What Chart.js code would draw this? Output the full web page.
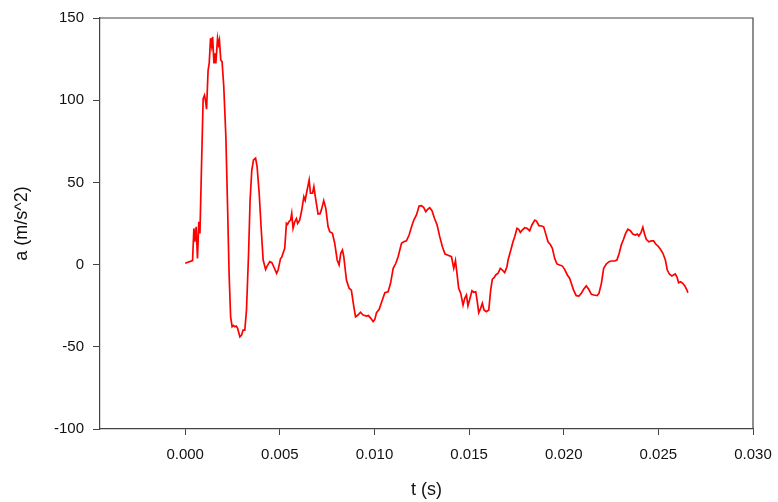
<!DOCTYPE html>
<html>
<head>
<meta charset="utf-8">
<title>a vs t</title>
<script src="https://cdn.jsdelivr.net/npm/chart.js@4.4.1/dist/chart.umd.min.js"></script>
<style>
  html, body { margin: 0; padding: 0; background: #fff; }
  #wrap { width: 778px; height: 502px; position: relative; }
</style>
</head>
<body>
<div id="wrap"><canvas id="chart"></canvas></div>
<script>
// time (s) and acceleration (m/s^2)
const tValues = [
  0.00000, 0.00039, 0.00046, 0.00051, 0.00058, 0.00065, 0.00072, 0.00078, 0.00085, 0.00095,
  0.00102, 0.00107, 0.00113, 0.00121, 0.00127, 0.00134, 0.00140, 0.00145, 0.00152, 0.00157,
  0.00162, 0.00171, 0.00176, 0.00181, 0.00188, 0.00195, 0.00204, 0.00215, 0.00224, 0.00232,
  0.00240, 0.00248, 0.00255, 0.00262, 0.00270, 0.00277, 0.00289, 0.00298, 0.00306, 0.00315,
  0.00324, 0.00335, 0.00343, 0.00352, 0.00361, 0.00372, 0.00380, 0.00391, 0.00401, 0.00412,
  0.00425, 0.00433, 0.00447, 0.00458, 0.00468, 0.00483, 0.00491, 0.00504, 0.00510, 0.00517,
  0.00526, 0.00535, 0.00541, 0.00548, 0.00557, 0.00563, 0.00570, 0.00579, 0.00588, 0.00594,
  0.00605, 0.00616, 0.00627, 0.00634, 0.00641, 0.00655, 0.00662, 0.00673, 0.00680, 0.00689,
  0.00702, 0.00713, 0.00722, 0.00732, 0.00743, 0.00755, 0.00764, 0.00778, 0.00790, 0.00803,
  0.00813, 0.00822, 0.00831, 0.00838, 0.00852, 0.00866, 0.00878, 0.00891, 0.00900, 0.00913,
  0.00926, 0.00940, 0.00958, 0.00968, 0.00981, 0.00993, 0.01002, 0.01011, 0.01025, 0.01039,
  0.01055, 0.01072, 0.01085, 0.01099, 0.01113, 0.01125, 0.01134, 0.01143, 0.01155, 0.01169,
  0.01183, 0.01196, 0.01208, 0.01222, 0.01236, 0.01248, 0.01260, 0.01271, 0.01281, 0.01292,
  0.01304, 0.01317, 0.01331, 0.01345, 0.01359, 0.01373, 0.01389, 0.01407, 0.01419, 0.01428,
  0.01436, 0.01445, 0.01456, 0.01468, 0.01477, 0.01486, 0.01494, 0.01507, 0.01515, 0.01525,
  0.01535, 0.01542, 0.01551, 0.01561, 0.01570, 0.01579, 0.01591, 0.01604, 0.01614, 0.01623,
  0.01632, 0.01641, 0.01653, 0.01665, 0.01676, 0.01688, 0.01700, 0.01706, 0.01718, 0.01732,
  0.01741, 0.01753, 0.01762, 0.01771, 0.01781, 0.01794, 0.01806, 0.01820, 0.01832, 0.01847,
  0.01856, 0.01869, 0.01883, 0.01894, 0.01904, 0.01917, 0.01929, 0.01940, 0.01952, 0.01964,
  0.01978, 0.01993, 0.02005, 0.02019, 0.02031, 0.02040, 0.02052, 0.02066, 0.02080, 0.02093,
  0.02105, 0.02119, 0.02132, 0.02146, 0.02160, 0.02176, 0.02186, 0.02199, 0.02211, 0.02225,
  0.02239, 0.02251, 0.02269, 0.02281, 0.02292, 0.02304, 0.02316, 0.02327, 0.02339, 0.02352,
  0.02365, 0.02378, 0.02389, 0.02397, 0.02408, 0.02418, 0.02427, 0.02436, 0.02450, 0.02463,
  0.02475, 0.02486, 0.02498, 0.02510, 0.02524, 0.02537, 0.02547, 0.02559, 0.02571, 0.02580,
  0.02589, 0.02598, 0.02607, 0.02617, 0.02629, 0.02640, 0.02651, 0.02656
];

const aValues = [
  0.8, 2.4, 22, 14, 23, 3.8, 26, 19, 53.5, 101,
  103, 100, 94.5, 118, 122.4, 137.7, 133, 138.6, 122.4, 128.5,
  122.4, 137.7, 134, 136.6, 124.5, 123.4, 108, 77.8, 35.2, -5.3,
  -31.7, -37.8, -37, -37.8, -37.4, -38.8, -43.9, -42.8, -39.8, -39.8,
  -27.6, 6.9, 39.3, 57.5, 63.6, 64.7, 59.6, 43.4, 23, 2.8,
  -2.9, -0.9, 1.8, 1.2, -1.3, -5.3, -3.3, 3.8, 4.4, 6.9,
  9.9, 25.1, 24.5, 26.1, 27.1, 31.2, 22.1, 26.1, 28, 25.1,
  27, 33.2, 41.3, 39, 43.4, 51.5, 43.4, 43.4, 47.4, 40.3,
  30.8, 31, 34.2, 38.9, 34.2, 23, 20, 19, 13, 2.8,
  -0.2, 6.9, 8.9, 4.8, -9.4, -14.4, -15.5, -25.6, -31.7, -30.7,
  -29, -30.7, -31.3, -31, -32.7, -34.7, -33.3, -29.2, -27.2, -22.5,
  -17.1, -16.5, -11.4, -2.3, 0.8, 4.8, 8.9, 13, 13.9, 14.5,
  18, 23, 27.1, 30.2, 35.6, 35.8, 34.8, 32.2, 33.6, 34.6,
  32.8, 28.2, 24.1, 17, 10.9, 6.4, 5.7, 4.8, -2.3, 2.4,
  -5.3, -14.4, -17.5, -24.6, -20.5, -18.5, -25, -19.5, -15.9, -16.8,
  -16.5, -21.5, -29.2, -26.6, -23.5, -27.6, -28.7, -27.6, -15.5, -8.9,
  -8, -6.3, -5.3, -2.3, -3.3, -4.9, -1.3, 2.8, 7.8, 13.9,
  17, 22.1, 21.5, 19.6, 21, 22.4, 22.1, 20.6, 24.1, 27.1,
  26.5, 23.7, 23.5, 23, 19, 13.9, 12.3, 9.9, 3.8, 0.4,
  -0.2, -0.9, -2.9, -6.3, -8.3, -11.4, -15.5, -18.9, -19.1, -17.5,
  -15, -13, -15, -18.1, -18.5, -18.9, -17.5, -11.4, -2.3, 0.4,
  1.8, 2.2, 2.2, 2.8, 6.4, 11.9, 15.4, 19, 21.5, 20.6,
  18.6, 18, 18.6, 17.4, 19.4, 22.7, 18.6, 15.4, 13.9, 14.4,
  14.4, 12.5, 11.3, 9.5, 6.9, 2.8, -3.3, -5.9, -6.9, -6.3,
  -5.7, -7.4, -11, -10.4, -11.4, -13, -15.5, -17.1
];

const xTicks = [0, 0.005, 0.01, 0.015, 0.02, 0.025, 0.03];
const yTicks = [-100, -50, 0, 50, 100, 150];

const axisColor = "#444444";
const fontFamily = "'Liberation Sans', Arial, sans-serif";

// closes the frame on top and right
const frameBox = {
  id: "frameBox",
  afterDraw(chart) {
    const { ctx, chartArea } = chart;
    ctx.save();
    ctx.strokeStyle = axisColor;
    ctx.lineWidth = 1.2;
    ctx.beginPath();
    ctx.moveTo(chartArea.left, chartArea.top);
    ctx.lineTo(chartArea.right, chartArea.top);
    ctx.lineTo(chartArea.right, chartArea.bottom);
    ctx.stroke();
    ctx.restore();
  }
};

const points = tValues.map((t, i) => ({ x: t, y: aValues[i] }));

new Chart(document.getElementById("chart"), {
  type: "line",
  data: {
    datasets: [{
      data: points,
      borderColor: "#ff0000",
      borderWidth: 1.7,
      pointRadius: 0,
      tension: 0,
      fill: false
    }]
  },
  options: {
    responsive: true,
    maintainAspectRatio: false,
    animation: false,
    layout: { padding: { top: 18, right: 25, left: 0, bottom: 0 } },
    plugins: {
      legend: { display: false },
      tooltip: { enabled: false }
    },
    scales: {
      x: {
        type: "linear",
        min: -0.0045,
        max: 0.03,
        afterBuildTicks: (scale) => { scale.ticks = xTicks.map((v) => ({ value: v })); },
        afterFit: (scale) => {
          scale.height = 73;
          scale.paddingLeft = 0;
          scale.paddingRight = 0;
        },
        border: { color: axisColor, width: 1.2 },
        grid: { drawOnChartArea: false, drawTicks: true, tickLength: 6, color: axisColor },
        ticks: {
          color: "#111",
          padding: 11,
          maxRotation: 0,
          font: { family: fontFamily, size: 15 },
          callback: (v) => Number(v).toFixed(3)
        },
        title: {
          display: true,
          text: "t (s)",
          color: "#111",
          font: { family: fontFamily, size: 18 },
          padding: { top: 1, bottom: 1 }
        }
      },
      y: {
        min: -100,
        max: 150,
        afterBuildTicks: (scale) => { scale.ticks = yTicks.map((v) => ({ value: v })); },
        afterFit: (scale) => { scale.width = 100; },
        border: { color: axisColor, width: 1.2 },
        grid: { drawOnChartArea: false, drawTicks: true, tickLength: 7, color: axisColor },
        ticks: {
          color: "#111",
          padding: 9,
          font: { family: fontFamily, size: 15 },
          callback: (v) => String(v)
        },
        title: {
          display: true,
          text: "a (m/s^2)",
          color: "#111",
          font: { family: fontFamily, size: 18 },
          padding: { top: 11, bottom: 11 }
        }
      }
    }
  },
  plugins: [frameBox]
});
</script>
</body>
</html>
